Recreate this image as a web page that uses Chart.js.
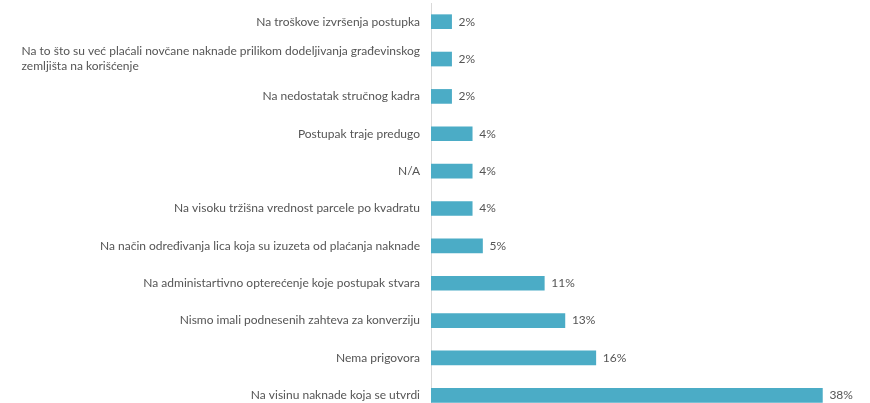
<!DOCTYPE html>
<html>
<head>
<meta charset="utf-8">
<script src="https://cdn.jsdelivr.net/npm/chart.js@4.4.1/dist/chart.umd.min.js"></script>
<style>
  html, body { margin: 0; padding: 0; background: #ffffff; overflow: hidden; }
  #wrap { position: relative; width: 870px; height: 414px; }
</style>
</head>
<body>
<div id="wrap"><canvas id="chart"></canvas></div>
<script>
// Answer categories (multi-line entries are arrays of lines)
const categories = [
  'Na troškove izvršenja postupka',
  ['Na to što su već plaćali novčane naknade prilikom dodeljivanja građevinskog', 'zemljišta na korišćenje'],
  'Na nedostatak stručnog kadra',
  'Postupak traje predugo',
  'N/A',
  'Na visoku tržišna vrednost parcele po kvadratu',
  'Na način određivanja lica koja su izuzeta od plaćanja naknade',
  'Na administartivno opterećenje koje postupak stvara',
  'Nismo imali podnesenih zahteva za konverziju',
  'Nema prigovora',
  'Na visinu naknade koja se utvrdi'
];

// Share of respondents, percent
const shares = [2, 2, 2, 4, 4, 4, 5, 11, 13, 16, 38];

const TEXT_COLOR = '#555555';
const FONT = '12px Lato, "Open Sans", sans-serif';

// Category labels: block right-aligned next to the axis, lines left-aligned inside the block
const categoryLabels = {
  id: 'categoryLabels',
  afterDraw(chart) {
    const { ctx } = chart;
    const y = chart.scales.y;
    const right = chart.chartArea.left - 11;
    const lineH = 15;
    ctx.save();
    ctx.font = FONT;
    ctx.fillStyle = TEXT_COLOR;
    ctx.textBaseline = 'middle';
    ctx.textAlign = 'left';
    categories.forEach((lab, i) => {
      const lines = Array.isArray(lab) ? lab : [lab];
      const w = Math.max(...lines.map(l => ctx.measureText(l).width));
      const cy = y.getPixelForTick(i);
      const y0 = cy - (lines.length - 1) * lineH / 2;
      lines.forEach((l, k) => ctx.fillText(l, right - w, y0 + k * lineH));
    });
    ctx.restore();
  }
};

// Percent labels to the right of each bar
const valueLabels = {
  id: 'valueLabels',
  afterDatasetsDraw(chart) {
    const { ctx } = chart;
    const meta = chart.getDatasetMeta(0);
    ctx.save();
    ctx.font = FONT;
    ctx.fillStyle = TEXT_COLOR;
    ctx.textBaseline = 'middle';
    ctx.textAlign = 'left';
    meta.data.forEach((bar, i) => {
      ctx.fillText(shares[i] + '%', bar.x + 7, bar.y);
    });
    ctx.restore();
  }
};

new Chart(document.getElementById('chart'), {
  type: 'bar',
  data: {
    labels: categories,
    datasets: [{
      data: shares,
      backgroundColor: '#4bacc6',
      borderWidth: 0,
      barThickness: 14
    }]
  },
  options: {
    indexAxis: 'y',
    responsive: true,
    maintainAspectRatio: false,
    animation: false,
    layout: { padding: { top: 3, right: 27, bottom: 0, left: 0 } },
    plugins: {
      legend: { display: false },
      tooltip: { enabled: false }
    },
    scales: {
      x: {
        display: false,
        min: 0,
        max: 40
      },
      y: {
        grid: { display: false },
        border: { display: true, color: '#d9d9d9', width: 1 },
        ticks: { display: false },
        afterFit(scale) { scale.width = 431; }
      }
    }
  },
  plugins: [categoryLabels, valueLabels]
});
</script>
</body>
</html>
